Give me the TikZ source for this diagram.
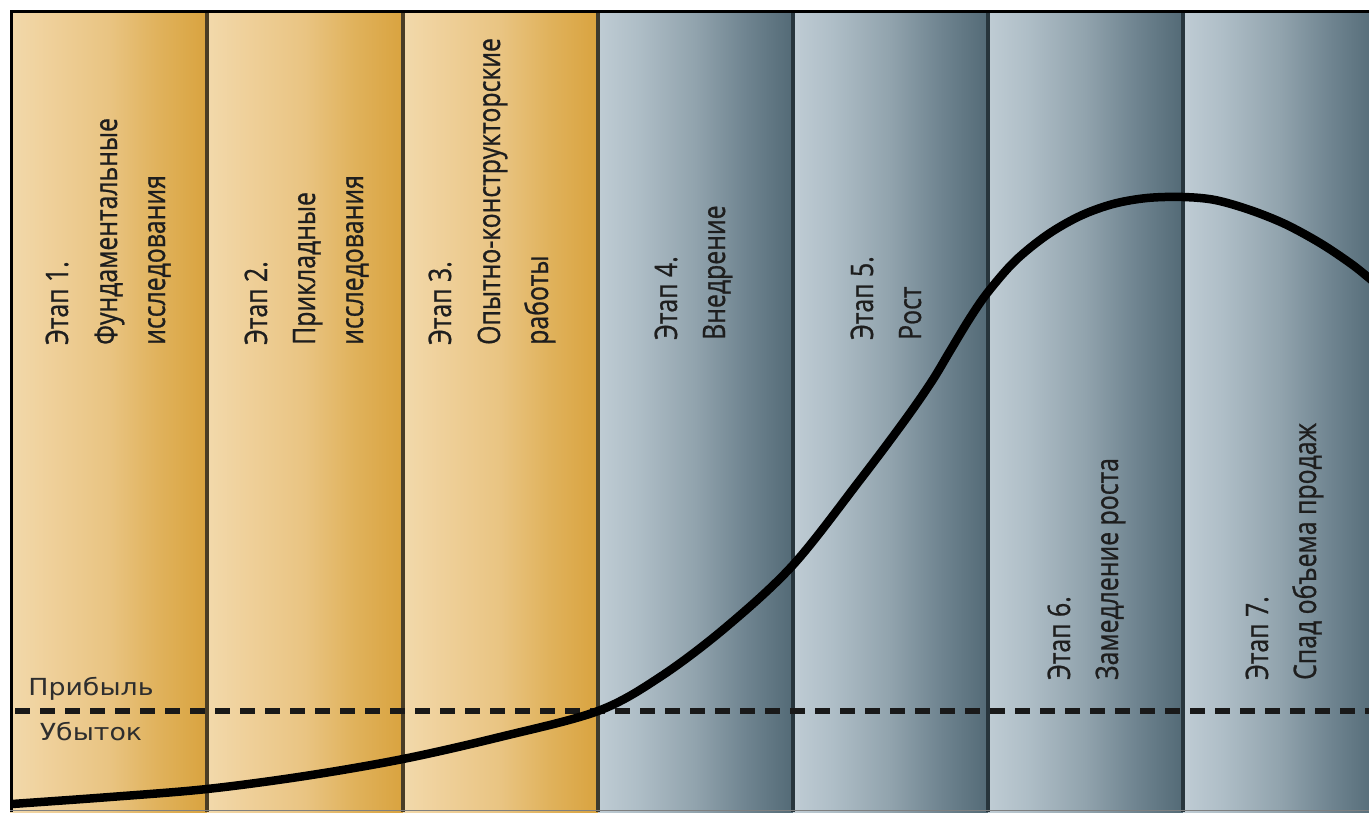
\documentclass[tikz,border=0pt]{standalone}
\usepackage{fontspec}
\newfontfamily\cond[FakeStretch=0.8,FakeBold=0.8]{Open Sans}
\newfontfamily\lbl[FakeStretch=1.14]{DejaVu Sans}
\definecolor{g0}{HTML}{F2D9AB}
\definecolor{g1}{HTML}{EFD09A}
\definecolor{g2}{HTML}{E9C482}
\definecolor{g3}{HTML}{E0B25C}
\definecolor{g4}{HTML}{D9A33F}
\definecolor{b0}{HTML}{BFCCD4}
\definecolor{b1}{HTML}{AFBEC7}
\definecolor{b2}{HTML}{91A3AD}
\definecolor{b3}{HTML}{708591}
\definecolor{b4}{HTML}{536A76}
\definecolor{golddiv}{HTML}{4A3D25}
\definecolor{bluediv}{HTML}{27353C}
\definecolor{txt}{HTML}{1E1E1E}
\definecolor{lbltxt}{HTML}{2E2E2E}
\pgfdeclarehorizontalshading{goldshade}{100bp}{color(0bp)=(g0); color(25bp)=(g0); color(35bp)=(g1); color(50bp)=(g2); color(62.5bp)=(g3); color(75bp)=(g4); color(100bp)=(g4)}
\pgfdeclarehorizontalshading{blueshade}{100bp}{color(0bp)=(b0); color(25bp)=(b0); color(35bp)=(b1); color(50bp)=(b2); color(62.5bp)=(b3); color(75bp)=(b4); color(100bp)=(b4)}
\tikzset{
  goldband/.style={shading=goldshade},
  blueband/.style={shading=blueshade},
  stagetext/.style={font=\cond\fontsize{31}{37}\selectfont, text=txt, rotate=90, anchor=base west, inner sep=0pt},
  pltext/.style={font=\lbl\fontsize{23.5}{28}\selectfont, text=lbltxt, anchor=base, inner sep=0pt},
  divider/.style={line width=4pt},
}
\begin{document}
\begin{tikzpicture}[x=1pt,y=-1pt]
\useasboundingbox (0,0) rectangle (1369,812);
\fill[white] (0,0) rectangle (1369,812);
% bands
\shade[goldband] (10,11) rectangle (207,812);
\shade[goldband] (207,11) rectangle (403,812);
\shade[goldband] (403,11) rectangle (598,812);
\shade[blueband] (598,11) rectangle (793,812);
\shade[blueband] (793,11) rectangle (988,812);
\shade[blueband] (988,11) rectangle (1183,812);
\shade[blueband] (1183,11) rectangle (1378,812);
% dividers
\draw[divider, golddiv] (207,11) -- (207,812);
\draw[divider, golddiv] (403,11) -- (403,812);
\draw[divider, golddiv!60!bluediv] (598,11) -- (598,812);
\draw[divider, bluediv] (793,11) -- (793,812);
\draw[divider, bluediv] (988,11) -- (988,812);
\draw[divider, bluediv] (1183,11) -- (1183,812);
% frame
\draw[line width=3pt, black] (10,11) -- (1369,11);
\draw[line width=3pt, black] (11.5,10) -- (11.5,812);
\draw[line width=1pt, gray] (10,810.5) -- (1369,810.5);
% stage texts
\node[stagetext] (s1a) at (68,345) {Этап 1.};
\node[stagetext] (s1b) at (117,345) {Фундаментальные};
\node[stagetext] (s1c) at (165,345) {исследования};
\node[stagetext] (s2a) at (267,345) {Этап 2.};
\node[stagetext] (s2b) at (315,345) {Прикладные};
\node[stagetext] (s2c) at (363,345) {исследования};
\node[stagetext] (s3a) at (451,345) {Этап 3.};
\node[stagetext] (s3b) at (500,345) {Опытно-конструкторские};
\node[stagetext] (s3c) at (548,345) {работы};
\node[stagetext] (s4a) at (677,340) {Этап 4.};
\node[stagetext] (s4b) at (725,340) {Внедрение};
\node[stagetext] (s5a) at (873,340) {Этап 5.};
\node[stagetext] (s5b) at (921,340) {Рост};
\node[stagetext] (s6a) at (1070,680) {Этап 6.};
\node[stagetext] (s6b) at (1118,680) {Замедление роста};
\node[stagetext] (s7a) at (1268,680) {Этап 7.};
\node[stagetext] (s7b) at (1316,680) {Спад объема продаж};
% profit / loss
\node[pltext] (profit) at (91,695) {Прибыль};
\node[pltext] (loss) at (91,740) {Убыток};
% break-even line
\draw[line width=6pt, black!90, dash pattern=on 15pt off 10pt] (15,711) -- (1369,711);
% curve
\begin{scope}
\clip (10,11) rectangle (1369,812);
\draw[line width=8.5pt, black, line cap=round] plot[smooth, tension=0.55] coordinates {
(12,804) (110,797) (207,789) (305,776) (403,759) (500,737) (598,711) (660,677) (725,628) (793,565) (860,480) (905,420) (932,381) (950,351) (970,318) (988,292) (1015,261) (1047,235) (1080,216) (1113,204) (1147,198) (1183,197) (1215,200) (1250,210) (1285,224) (1320,243) (1350,263) (1369,278) (1390,296)};
\end{scope}
\end{tikzpicture}
\end{document}
